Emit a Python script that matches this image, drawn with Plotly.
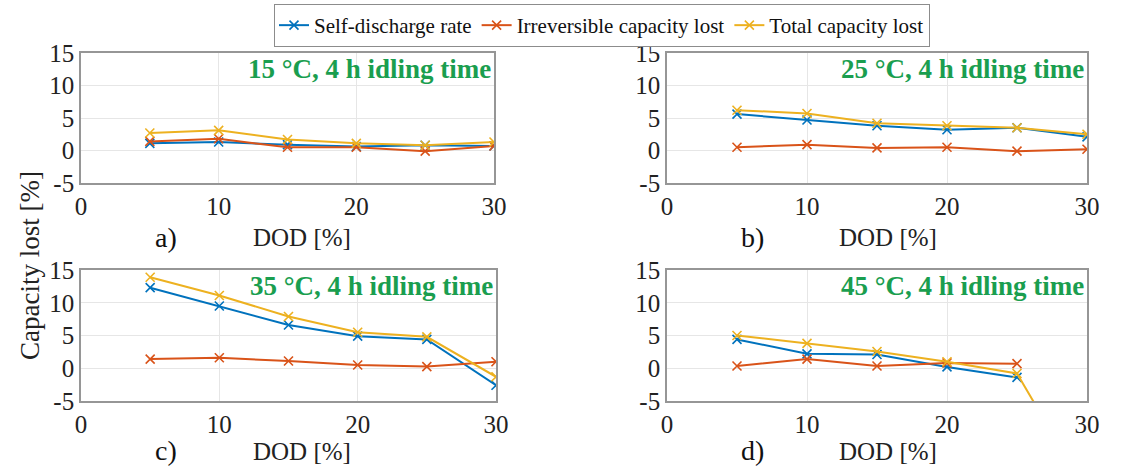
import plotly.graph_objects as go

W, H = 1136, 470

dod = [5, 10, 15, 20, 25, 30]

# Capacity lost [%] per idling temperature
self_discharge = {
    "15": [1.1, 1.3, 0.9, 0.6, 0.8, 0.7],
    "25": [5.6, 4.7, 3.8, 3.2, 3.5, 2.1],
    "35": [12.3, 9.5, 6.6, 4.9, 4.4, -2.6],
    "45": [4.4, 2.2, 2.1, 0.2, -1.4, None],
}
irreversible = {
    "15": [1.4, 1.8, 0.5, 0.5, -0.1, 0.7],
    "25": [0.5, 0.9, 0.4, 0.5, -0.1, 0.2],
    "35": [1.4, 1.6, 1.1, 0.5, 0.25, 1.0],
    "45": [0.35, 1.4, 0.35, 0.8, 0.7, None],
}
total = {
    "15": [2.7, 3.1, 1.7, 1.1, 0.8, 1.3],
    "25": [6.2, 5.7, 4.2, 3.8, 3.5, 2.5],
    "35": [13.9, 11.1, 7.9, 5.5, 4.8, -1.3],
    "45": [5.0, 3.8, 2.55, 1.0, -0.8, -19.0],
}

temps = ["15", "25", "35", "45"]
panel_letters = ["a)", "b)", "c)", "d)"]
series_names = ["Self-discharge rate", "Irreversible capacity lost", "Total capacity lost"]
series_data = [self_discharge, irreversible, total]
colors = ["#0072BD", "#D95319", "#EDB120"]

x_ticks = [0, 10, 20, 30]
y_ticks = [-5, 0, 5, 10, 15]
y_tick_text = ["-5", "0", "5", "10", "15"]

# panel boxes in pixels: (left, right, top, bottom, gap to x title)
boxes = [
    (81, 494, 53, 183, 55),
    (667, 1087, 53, 183, 55),
    (81, 496, 270, 401, 50),
    (667, 1087, 270, 401, 50),
]

SERIF = "Liberation Serif"
fig = go.Figure()

for i, (t, box) in enumerate(zip(temps, boxes)):
    l, r, tp, bt, gap = box
    n = "" if i == 0 else str(i + 1)
    xa, ya = "xaxis" + n, "yaxis" + n
    for s, (name, data, c) in enumerate(zip(series_names, series_data, colors)):
        fig.add_trace(go.Scatter(
            x=dod, y=data[t], mode="lines+markers", name=name,
            xaxis="x" + n, yaxis="y" + n,
            line=dict(color=c, width=2),
            marker=dict(symbol="x-thin", size=9, line=dict(color=c, width=1.6)),
            showlegend=(i == 0), legendgroup=name,
        ))
    fig.update_layout(**{
        xa: dict(
            domain=[l / W, r / W], anchor="y" + n, range=[0, 30], automargin=False,
            tickvals=x_ticks, showgrid=True, gridcolor="#e6e6e6", gridwidth=1,
            zeroline=False, showline=True, linecolor="#969696", linewidth=1.6,
            mirror=True, ticks="", tickfont=dict(family=SERIF, size=25, color="#222"),
            fixedrange=True,
        ),
        ya: dict(
            domain=[1 - bt / H, 1 - tp / H], anchor="x" + n, range=[-5, 15], automargin=False,
            tickvals=y_ticks, ticktext=y_tick_text, showgrid=True, gridcolor="#e6e6e6",
            gridwidth=1, zeroline=False, showline=True, linecolor="#969696", linewidth=1.6,
            mirror=True, ticks="", tickfont=dict(family=SERIF, size=25, color="#222"),
            fixedrange=True,
        ),
    })
    # condition label inside the panel
    fig.add_annotation(
        text=f"<b>{t} °C, 4 h idling time</b>", xref="x" + n + " domain", yref="y" + n + " domain",
        x=1, y=1, xanchor="right", yanchor="top", showarrow=False, xshift=-1, yshift=1,
        font=dict(family=SERIF, size=27, color="#1a9e4f"),
    )
    # panel letter and x-axis title
    fig.add_annotation(
        text=panel_letters[i], xref="paper", yref="paper",
        x=(l + 85) / W, y=1 - (bt + gap - 1) / H, xanchor="center", yanchor="middle",
        showarrow=False, font=dict(family=SERIF, size=28, color="#111"),
    )
    fig.add_annotation(
        text="DOD [%]", xref="paper", yref="paper",
        x=(l + 221) / W, y=1 - (bt + gap) / H, xanchor="center", yanchor="middle",
        showarrow=False, font=dict(family=SERIF, size=25, color="#222"),
    )

fig.add_annotation(
    text="Capacity lost [%]", xref="paper", yref="paper", x=30 / W, y=1 - 266 / H,
    xanchor="center", yanchor="middle", textangle=-90, showarrow=False,
    font=dict(family=SERIF, size=27, color="#222"),
)

fig.update_layout(
    width=W, height=H, margin=dict(l=0, r=0, t=0, b=0, autoexpand=False),
    paper_bgcolor="white", plot_bgcolor="white",
    showlegend=True,
    legend=dict(
        orientation="h", x=602 / W, y=1 - 4 / H, xanchor="center", yanchor="top",
        bordercolor="#8c8c8c", borderwidth=1, bgcolor="white",
        font=dict(family=SERIF, size=21, color="#111"),
        itemwidth=30, tracegroupgap=0,
    ),
)

fig.write_html("out.html")
